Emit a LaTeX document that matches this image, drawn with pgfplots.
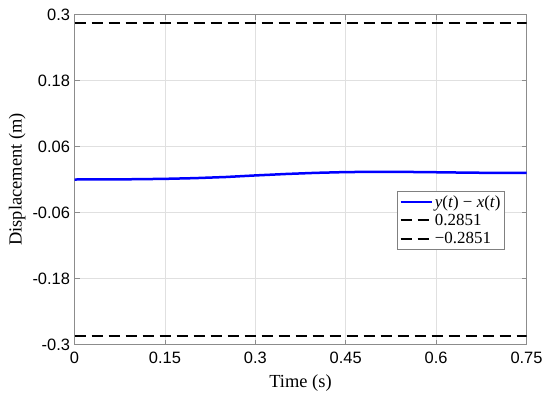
\documentclass[border=0pt]{standalone}
\usepackage{pgfplots}
\pgfplotsset{compat=1.18}
\usepackage{fontspec}
\setmainfont{Liberation Serif}
\newfontfamily\ticksfont{Liberation Sans}
\begin{document}
\begin{tikzpicture}[x=1bp,y=1bp]
\useasboundingbox (-74.5,-55.5) rectangle (475.5,344.5);
\begin{axis}[
  scale only axis, width=452bp, height=330bp,
  xmin=0, xmax=0.75, ymin=-0.3, ymax=0.3,
  xtick={0,0.15,0.3,0.45,0.6,0.75},
  xticklabels={0,0.15,0.3,0.45,0.6,0.75},
  ytick={-0.3,-0.18,-0.06,0.06,0.18,0.3},
  yticklabels={-0.3,-0.18,-0.06,0.06,0.18,0.3},
  ticklabel style={font=\ticksfont\fontsize{16.5}{19}\selectfont},
  xticklabel style={yshift=-4bp},
  yticklabel style={xshift=-1bp},
  tick align=inside, major tick length=5bp,
  grid=major, grid style={black!12, line width=0.6bp},
  axis line style={black!45, line width=0.8bp},
  major tick style={black!45, line width=0.8bp},
  xlabel={Time (s)}, ylabel={Displacement (m)},
  label style={font=\fontsize{18.5}{21}\selectfont},
  xlabel style={yshift=-4bp},
  legend style={at={(0.952,0.465)}, anchor=north east, draw=black!50,
    font=\fontsize{17}{19}\selectfont, inner sep=2bp, row sep=1.5bp,
    legend image code/.code={\draw[#1] (0bp,0bp) -- (31bp,0bp);}},
  legend cell align=left,
]
\addplot[blue, line width=2.5bp] coordinates {
(0,0.0000) (0.05,0.0002) (0.1,0.0005) (0.15,0.0012) (0.2,0.0025)
(0.25,0.0045) (0.3,0.0074) (0.35,0.0100) (0.4,0.0121) (0.45,0.0135)
(0.5,0.0140) (0.55,0.0138) (0.6,0.0132) (0.65,0.0125) (0.7,0.0120) (0.75,0.0120)};
\addlegendentry{\textit{y}(\textit{t}) − \textit{x}(\textit{t})}
\addplot[black, line width=1.8bp, dash pattern=on 11bp off 6bp] coordinates {(0,0.2851) (0.75,0.2851)};
\addlegendentry{0.2851}
\addplot[black, line width=1.8bp, dash pattern=on 11bp off 6bp] coordinates {(0,-0.2851) (0.75,-0.2851)};
\addlegendentry{−0.2851}
\end{axis}
\end{tikzpicture}
\end{document}
